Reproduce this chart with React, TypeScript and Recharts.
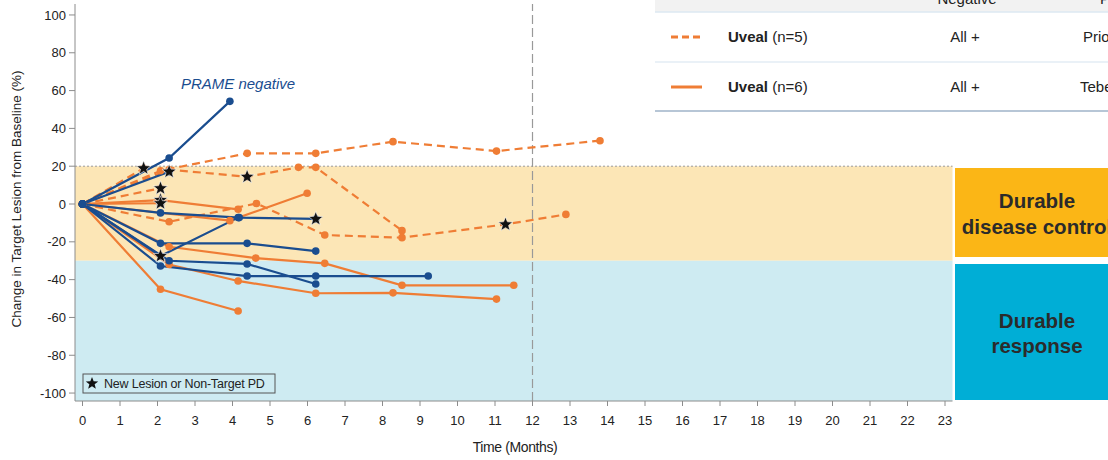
import {
  ComposedChart,
  Line,
  ReferenceArea,
  ReferenceLine,
  Scatter,
  XAxis,
  YAxis,
} from "recharts";

type Pt = [number, number];

const monthTicks = [0, 1, 2, 3, 4, 5, 6, 7, 8, 9, 10, 11, 12, 13, 14, 15, 16, 17, 18, 19, 20, 21, 22, 23];
const pctTicks = [-100, -80, -60, -40, -20, 0, 20, 40, 60, 80, 100];

// PRAME negative patients (blue)
const prameNeg1: Pt[] = [[0, 0], [2.31, 24.3], [3.93, 54.3]];
const prameNeg2: Pt[] = [[0, 0], [2.31, 17.1]];
const prameNeg3: Pt[] = [[0, 0], [2.08, -4.7], [4.18, -7.2], [6.22, -7.9]];
const prameNeg4: Pt[] = [[0, 0], [2.08, -27.5], [4.15, -7.2]];
const prameNeg5: Pt[] = [[0, 0], [2.08, -20.8], [4.39, -20.8], [6.22, -24.9]];
const prameNeg6: Pt[] = [[0, 0], [2.31, -30], [4.39, -31.7], [6.22, -42.3]];
const prameNeg7: Pt[] = [[0, 0], [2.08, -32.8], [4.39, -38.1], [6.22, -38.1], [9.22, -38.1]];

// Uveal, prior therapy (dashed orange)
const uvealPrior1: Pt[] = [[0, 0], [2.08, 17.6], [4.39, 26.8], [6.22, 26.8], [8.28, 33], [11.04, 28], [13.8, 33.5]];
const uvealPrior2: Pt[] = [[0, 0], [2.31, 18.2], [4.39, 14.4], [5.76, 19.4], [6.22, 19.4], [8.52, -14.1]];
const uvealPrior3: Pt[] = [[0, 0], [2.31, -9.4], [4.64, 0.3], [6.46, -16.4], [8.52, -17.8], [11.28, -10.8], [12.89, -5.5]];
const uvealPrior4: Pt[] = [[0, 0], [2.08, 8.3]];
const uvealPrior5: Pt[] = [[0, 0], [1.63, 18.9]];

// Uveal, tebentafusp (solid orange)
const uvealTebe1: Pt[] = [[0, 0], [2.08, 2.1], [4.15, -2.8]];
const uvealTebe2: Pt[] = [[0, 0], [3.93, -8.8], [5.99, 5.7]];
const uvealTebe3: Pt[] = [[0, 0], [2.31, -22.6], [4.62, -28.6], [6.46, -31.4], [8.52, -43], [11.5, -43]];
const uvealTebe4: Pt[] = [[0, 0], [2.31, -32], [4.15, -40.7], [6.22, -47.2], [8.28, -47], [11.04, -50.3]];
const uvealTebe5: Pt[] = [[0, 0], [2.08, -45.1], [4.15, -56.6]];
const uvealTebe6: Pt[] = [[0, 0], [2.08, 0.4]];

// new lesion or non-target PD
const pdStars: Pt[] = [
  [1.63, 18.9], [2.31, 17.1], [2.08, 8.3], [2.08, 2.1], [2.08, 0.4],
  [4.39, 14.4], [6.22, -7.9], [2.08, -27.5], [11.28, -10.8],
];

const blueSeries = [prameNeg1, prameNeg2, prameNeg3, prameNeg4, prameNeg5, prameNeg6, prameNeg7];
const dashedSeries = [uvealPrior1, uvealPrior2, uvealPrior3, uvealPrior4, uvealPrior5];
const solidSeries = [uvealTebe1, uvealTebe2, uvealTebe3, uvealTebe4, uvealTebe5, uvealTebe6];

const BLUE = "#1A4D8F";
const ORANGE = "#EF7D35";
const FONT = "'Liberation Sans', Arial, sans-serif";

const toRows = (pts: Pt[]) => pts.map(([t, v]) => ({ t, v }));

function starPath(cx: number, cy: number, outer: number, inner: number) {
  let d = "";
  for (let i = 0; i < 10; i++) {
    const r = i % 2 === 0 ? outer : inner;
    const a = -Math.PI / 2 + (i * Math.PI) / 5;
    d += `${i === 0 ? "M" : "L"}${cx + r * Math.cos(a)},${cy + r * Math.sin(a)}`;
  }
  return d + "Z";
}

const StarShape = (props: any) => {
  const { cx, cy } = props;
  if (cx == null || cy == null) return null;
  return <path d={starPath(cx, cy, 7.5, 3.2)} fill="#111" stroke="#fff" strokeWidth={0.6} />;
};

const tickStyle = { fontSize: 13, fill: "#222", fontFamily: FONT };

export default function App() {
  return (
    <div style={{ position: "absolute", left: 0, top: 0, width: 1108, height: 460, background: "#fff" }}>
      <ComposedChart width={1108} height={460} margin={{ top: 4, right: 155.5, bottom: 29, left: 30 }}>
        <XAxis
          type="number"
          dataKey="t"
          domain={[-0.2, 23.2]}
          ticks={monthTicks}
          interval={0}
          allowDataOverflow
          tick={tickStyle}
          tickSize={5}
          tickMargin={10}
          stroke="#8c8c8c"
        />
        <YAxis
          type="number"
          dataKey="v"
          domain={[-104.2, 105.8]}
          ticks={pctTicks}
          interval={0}
          allowDataOverflow
          width={45}
          tick={tickStyle}
          tickSize={6}
          tickMargin={3}
          stroke="#8c8c8c"
        />
        <ReferenceArea y1={-30} y2={20} fill="#FCE6B6" fillOpacity={1} stroke="none" />
        <ReferenceArea y1={-104.2} y2={-30} fill="#CEEBF2" fillOpacity={1} stroke="none" />
        <ReferenceLine y={20} stroke="#9a9a9a" strokeDasharray="2 2" />
        <ReferenceLine x={12} stroke="#999" strokeWidth={1.2} strokeDasharray="9 4" />
        {dashedSeries.map((s, i) => (
          <Line
            key={`d${i}`}
            data={toRows(s)}
            dataKey="v"
            type="linear"
            stroke={ORANGE}
            strokeWidth={2.2}
            strokeDasharray="8 5"
            dot={{ r: 3.8, fill: ORANGE, stroke: ORANGE, strokeWidth: 0 }}
            isAnimationActive={false}
          />
        ))}
        {solidSeries.map((s, i) => (
          <Line
            key={`s${i}`}
            data={toRows(s)}
            dataKey="v"
            type="linear"
            stroke={ORANGE}
            strokeWidth={2.2}
            dot={{ r: 3.8, fill: ORANGE, stroke: ORANGE, strokeWidth: 0 }}
            isAnimationActive={false}
          />
        ))}
        {blueSeries.map((s, i) => (
          <Line
            key={`b${i}`}
            data={toRows(s)}
            dataKey="v"
            type="linear"
            stroke={BLUE}
            strokeWidth={2.2}
            dot={{ r: 3.8, fill: BLUE, stroke: BLUE, strokeWidth: 0 }}
            isAnimationActive={false}
          />
        ))}
        <Scatter data={toRows(pdStars)} dataKey="v" shape={StarShape} isAnimationActive={false} />
      </ComposedChart>

      <svg
        width={1108}
        height={460}
        style={{ position: "absolute", left: 0, top: 0, pointerEvents: "none" }}
        fontFamily={FONT}
      >
        <text transform="translate(21,199) rotate(-90)" textAnchor="middle" fontSize={13.5} fill="#222">
          Change in Target Lesion from Baseline (%)
        </text>
        <text x={515} y={452} textAnchor="middle" fontSize={14} fill="#222" letterSpacing={-0.4}>
          Time (Months)
        </text>
        <text x={238} y={89} textAnchor="middle" fontSize={15} fontStyle="italic" fill={BLUE}>
          PRAME negative
        </text>

        <rect x={83} y={374} width={192} height={19} fill="none" stroke="#555" strokeWidth={1} />
        <path d={starPath(92, 383.5, 6.5, 2.8)} fill="#111" />
        <text x={104} y={388} fontSize={12.5} fill="#222" letterSpacing={-0.2}>
          New Lesion or Non-Target PD
        </text>

        <rect x={955} y={168} width={160} height={89} fill="#FBB616" />
        <text x={1037} y={208} textAnchor="middle" fontSize={20.5} fontWeight="bold" fill="#2b2b2b">
          Durable
        </text>
        <text x={1037} y={234} textAnchor="middle" fontSize={20.5} fontWeight="bold" fill="#2b2b2b">
          disease control
        </text>
        <rect x={955} y={264} width={160} height={136} fill="#00AED6" />
        <text x={1037} y={328} textAnchor="middle" fontSize={20.5} fontWeight="bold" fill="#2b2b2b">
          Durable
        </text>
        <text x={1037} y={353} textAnchor="middle" fontSize={20.5} fontWeight="bold" fill="#2b2b2b">
          response
        </text>

        <rect x={655} y={0} width={453} height={111} fill="#fff" />
        <rect x={655} y={0} width={453} height={12} fill="#F2F2F2" />
        <line x1={655} x2={1108} y1={12} y2={12} stroke="#DCE8F2" strokeWidth={1.5} />
        <text x={967} y={4} textAnchor="middle" fontSize={15} fill="#222">Negative</text>
        <text x={1100} y={4} fontSize={15} fill="#222">Prior</text>
        <line x1={655} x2={1108} y1={62} y2={62} stroke="#E3EDF5" strokeWidth={1.5} />
        <line x1={655} x2={1108} y1={111} y2={111} stroke="#9FB3C8" strokeWidth={1.5} />

        <line x1={671} x2={702} y1={37} y2={37} stroke={ORANGE} strokeWidth={3} strokeDasharray="7 4" />
        <text x={728} y={42} fontSize={15} fill="#222">
          <tspan fontWeight="bold">Uveal</tspan> (n=5)
        </text>
        <text x={965} y={42} textAnchor="middle" fontSize={15} fill="#222">All +</text>
        <text x={1083} y={42} fontSize={15} fill="#222">Prior</text>

        <line x1={671} x2={702} y1={87} y2={87} stroke={ORANGE} strokeWidth={3} />
        <text x={728} y={92} fontSize={15} fill="#222">
          <tspan fontWeight="bold">Uveal</tspan> (n=6)
        </text>
        <text x={965} y={92} textAnchor="middle" fontSize={15} fill="#222">All +</text>
        <text x={1080} y={92} fontSize={15} fill="#222">Tebentafusp</text>
      </svg>
    </div>
  );
}
